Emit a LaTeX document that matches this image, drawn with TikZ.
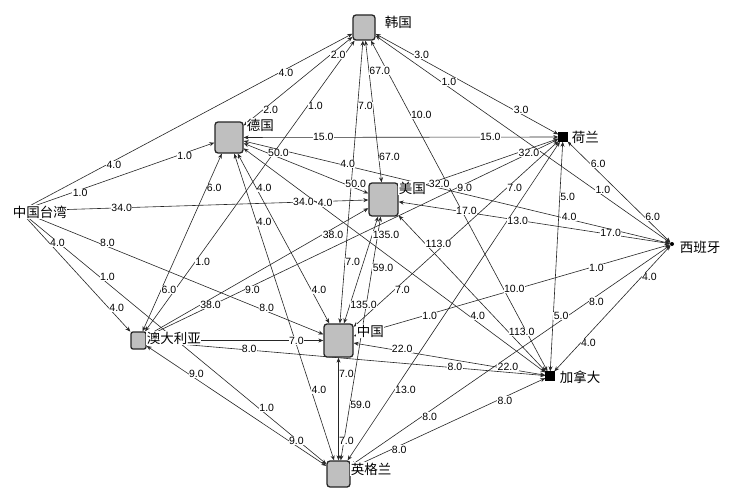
\documentclass[tikz,border=0pt]{standalone}
\usepackage{fontspec}
\setmainfont{Liberation Sans}
\newfontfamily\cjk{Noto Sans CJK SC}
\usetikzlibrary{arrows.meta}
\pgfdeclarelayer{bgfill}
\pgfdeclarelayer{edges}
\pgfdeclarelayer{elabels}
\pgfsetlayers{bgfill,edges,elabels,main}
\tikzset{
  box/.style={draw=black!85, line width=1.3pt, fill=black!25, rounded corners=3pt, inner sep=0pt},
  sq/.style={draw=black, fill=black, inner sep=0pt, minimum size=9pt},
  dotnode/.style={circle, fill=black, inner sep=0pt, minimum size=4pt},
  nlab/.style={anchor=west, fill=white, inner sep=0.6pt, font=\cjk\fontsize{13.5}{14}\selectfont},
  elab/.style={anchor=west, fill=white, inner sep=0.4pt, font=\fontsize{10.5}{11}\selectfont},
  edge/.style={draw=black!85, line width=0.6pt, {Stealth[length=5pt,width=4pt]}-{Stealth[length=5pt,width=4pt]}}
}
% edge with two labels at given positions
\newcommand\linkp[5]{%
  \begin{pgfonlayer}{edges}\draw[edge] (#1) -- (#2);\end{pgfonlayer}%
  \begin{pgfonlayer}{elabels}\path (#1.center) -- node[elab,pos=#4]{#3} node[elab,pos=#5]{#3} (#2.center);\end{pgfonlayer}%
}
\newcommand\link[3]{\linkp{#1}{#2}{#3}{.25}{.75}}
% edge with one visible label
\newcommand\linkone[4]{%
  \begin{pgfonlayer}{edges}\draw[edge] (#1) -- (#2);\end{pgfonlayer}%
  \begin{pgfonlayer}{elabels}\path (#1.center) -- node[elab,pos=#4]{#3} (#2.center);\end{pgfonlayer}%
}
\begin{document}
\begin{tikzpicture}[x=1pt,y=-1pt]
\useasboundingbox (0,0) rectangle (737,503);
\begin{pgfonlayer}{bgfill}\fill[white] (0,0) rectangle (737,503);\end{pgfonlayer}
% nodes
\node[box, minimum width=22pt, minimum height=25pt] (K) at (364,27.5) {};
\node[box, minimum width=28pt, minimum height=31pt] (D) at (229,137.5) {};
\node[box, minimum width=29pt, minimum height=33pt] (U) at (383.5,199.5) {};
\node[box, minimum width=29pt, minimum height=33pt] (C) at (338.5,340.5) {};
\node[box, minimum width=23pt, minimum height=26pt] (E) at (338.5,474) {};
\node[box, minimum width=15pt, minimum height=17pt, rounded corners=2pt] (A) at (138.5,340.5) {};
\node[sq] (N) at (563,137) {};
\node[sq] (Ca) at (550,376) {};
\node[dotnode] (S) at (672,244) {};
\coordinate (T) at (20,211);
% edges
\link{T}{K}{4.0}
\link{T}{D}{1.0}
\link{T}{U}{34.0}
\link{T}{C}{8.0}
\link{T}{A}{4.0}
\link{T}{E}{1.0}
\link{K}{D}{2.0}
\link{K}{A}{1.0}
\link{K}{N}{3.0}
\link{K}{S}{1.0}
\link{K}{U}{67.0}
\link{K}{Ca}{10.0}
\link{K}{C}{7.0}
\link{D}{A}{6.0}
\link{D}{U}{50.0}
\link{D}{N}{15.0}
\link{D}{S}{4.0}
\link{D}{C}{4.0}
\link{D}{E}{4.0}
\linkp{D}{Ca}{4.0}{.275}{.75}
\link{A}{U}{38.0}
\link{A}{N}{9.0}
\linkone{A}{C}{7.0}{.75}
\link{A}{Ca}{8.0}
\link{A}{E}{9.0}
\link{U}{N}{32.0}
\link{U}{S}{17.0}
\link{U}{C}{135.0}
\link{U}{E}{59.0}
\link{U}{Ca}{113.0}
\link{N}{S}{6.0}
\link{N}{E}{13.0}
\link{N}{C}{7.0}
\link{N}{Ca}{5.0}
\link{C}{S}{1.0}
\link{C}{Ca}{22.0}
\link{C}{E}{7.0}
\link{S}{Ca}{4.0}
\link{S}{E}{8.0}
\link{Ca}{E}{8.0}
% node labels
\node[nlab] (lK) at (384,22) {韩国};
\node[nlab] (lD) at (246,125) {德国};
\node[nlab] (lU) at (398,188) {美国};
\node[nlab] (lC) at (356,331) {中国};
\node[nlab] (lE) at (350,469) {英格兰};
\node[nlab] (lA) at (146,338) {澳大利亚};
\node[nlab] (lN) at (571,137) {荷兰};
\node[nlab] (lCa) at (559,377) {加拿大};
\node[nlab] (lS) at (679,247) {西班牙};
\node[nlab] (lT) at (12,212) {中国台湾};
\end{tikzpicture}
\end{document}
